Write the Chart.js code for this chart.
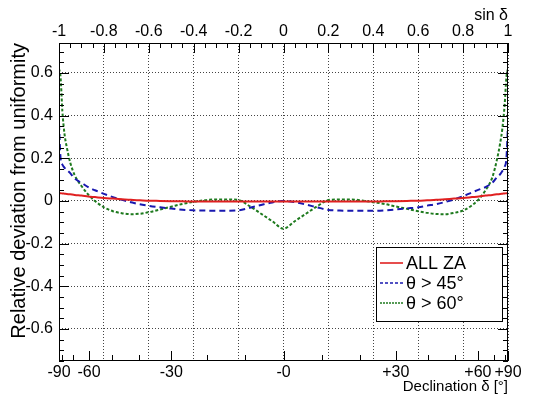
<!DOCTYPE html>
<html>
<head>
<meta charset="utf-8">
<script src="https://cdn.jsdelivr.net/npm/chart.js@4"></script>
<style>
  html, body { margin: 0; padding: 0; background: #fff; }
</style>
</head>
<body>
<canvas id="chart" width="541" height="399"></canvas>
<script>
"use strict"

// sin(declination) sample positions
const sinDec = [-1, -0.993, -0.985, -0.975, -0.965, -0.95, -0.93, -0.9, -0.87, -0.84, -0.8, -0.76, -0.72, -0.68,
  -0.64, -0.6, -0.55, -0.5, -0.45, -0.4, -0.35, -0.3, -0.25, -0.2, -0.15, -0.1, -0.05, 0,
  0.05, 0.1, 0.15, 0.2, 0.25, 0.3, 0.35, 0.4, 0.45, 0.5, 0.55, 0.6, 0.64, 0.68,
  0.72, 0.76, 0.8, 0.84, 0.87, 0.9, 0.93, 0.95, 0.965, 0.975, 0.985, 0.993, 1];

const allZA = [0.036, 0.036, 0.035, 0.034, 0.033, 0.031, 0.028, 0.025, 0.021, 0.018, 0.014, 0.011, 0.008, 0.005,
  0.003, 0.001, 0, -0.001, -0.002, -0.003, -0.003, -0.003, -0.003, -0.003, -0.003, -0.003, -0.003, -0.003,
  -0.003, -0.003, -0.003, -0.003, -0.003, -0.003, -0.003, -0.003, -0.002, -0.001, 0, 0.001, 0.003, 0.005,
  0.008, 0.011, 0.014, 0.018, 0.021, 0.025, 0.028, 0.031, 0.033, 0.034, 0.035, 0.036, 0.036];

const theta45 = [0.36, 0.2, 0.17, 0.155, 0.145, 0.13, 0.105, 0.085, 0.065, 0.05, 0.033, 0.018, 0.005, -0.006,
  -0.016, -0.023, -0.03, -0.036, -0.041, -0.044, -0.045, -0.046, -0.046, -0.044, -0.032, -0.019, -0.007, 0,
  -0.006, -0.017, -0.03, -0.042, -0.045, -0.046, -0.046, -0.046, -0.044, -0.04, -0.035, -0.03, -0.022, -0.015,
  -0.005, 0.007, 0.022, 0.04, 0.053, 0.065, 0.085, 0.11, 0.125, 0.14, 0.16, 0.2, 0.36];

const theta60 = [0.62, 0.58, 0.42, 0.31, 0.25, 0.18, 0.12, 0.07, 0.03, 0, -0.03, -0.048, -0.058, -0.062,
  -0.06, -0.053, -0.04, -0.027, -0.014, -0.004, 0.003, 0.007, 0.007, 0.004, -0.025, -0.06, -0.095, -0.13,
  -0.095, -0.06, -0.025, 0.004, 0.007, 0.007, 0.002, -0.006, -0.014, -0.026, -0.037, -0.048, -0.056, -0.061,
  -0.062, -0.056, -0.045, -0.02, 0.008, 0.05, 0.11, 0.19, 0.27, 0.34, 0.45, 0.58, 0.62];

// axis ticks
const sinTicks = [-1, -0.8, -0.6, -0.4, -0.2, 0, 0.2, 0.4, 0.6, 0.8, 1];
const sinLabels = ['-1', '-0.8', '-0.6', '-0.4', '-0.2', '0', '0.2', '0.4', '0.6', '0.8', '1'];
const decTicks = [-90, -60, -30, 0, 30, 60, 90];
const decLabels = ['-90', '-60', '-30', '-0', '+30', '+60', '+90'];
const yTicks = [-0.6, -0.4, -0.2, 0, 0.2, 0.4, 0.6];
const yLabels = ['-0.6', '-0.4', '-0.2', '0', '0.2', '0.4', '0.6'];

const FONT = "'Liberation Sans', Arial, sans-serif";
const RED = '#e02020', BLUE = '#1818b0', GREEN = '#1e7a1e';
const rad = Math.PI / 180;

function points(ys) {
  return sinDec.map((x, i) => ({ x: x, y: ys[i] }));
}

const legendItems = [
  { text: 'ALL ZA', color: RED, dash: [] },
  { text: 'θ > 45°', color: BLUE, dash: [3, 2] },
  { text: 'θ > 60°', color: GREEN, dash: [2, 1] }
];

// frame, ROOT-like tick marks and the boxed legend
const frameAndLegend = {
  id: 'frameAndLegend',
  afterDraw(chart) {
    const { ctx, chartArea: a, scales } = chart;
    ctx.save();
    ctx.strokeStyle = '#000';
    ctx.lineWidth = 1;
    ctx.setLineDash([]);
    ctx.beginPath();
    for (let k = -15; k <= 14; k++) {
      const py = Math.round(scales.y.getPixelForValue(k * 0.05)) + 0.5;
      const len = (k % 4 === 0) ? 10 : 5;
      ctx.moveTo(a.left, py); ctx.lineTo(a.left + len, py);
      ctx.moveTo(a.right, py); ctx.lineTo(a.right - len, py);
    }
    for (let k = -20; k <= 20; k++) {
      const px = Math.round(scales.x2.getPixelForValue(k * 0.05)) + 0.5;
      const len = (k % 4 === 0) ? 10 : 5;
      ctx.moveTo(px, a.top); ctx.lineTo(px, a.top + len);
    }
    for (let d = -90; d <= 90; d += 10) {
      const px = Math.round(scales.x.getPixelForValue(Math.sin(d * rad))) + 0.5;
      const len = (d % 30 === 0) ? 10 : 6;
      ctx.moveTo(px, a.bottom); ctx.lineTo(px, a.bottom - len);
    }
    ctx.stroke();
    ctx.strokeRect(a.left + 0.5, a.top + 0.5, a.right - a.left - 1, a.bottom - a.top - 1);

    // legend box
    const bx = 376, by = 247, bw = 126, bh = 74;
    ctx.fillStyle = '#fff';
    ctx.fillRect(bx, by, bw, bh);
    ctx.strokeRect(bx + 0.5, by + 0.5, bw, bh);
    ctx.font = '18px ' + FONT;
    ctx.textBaseline = 'middle';
    ctx.textAlign = 'left';
    legendItems.forEach((it, i) => {
      const ly = by + 16 + i * 20;
      ctx.beginPath();
      ctx.strokeStyle = it.color;
      ctx.lineWidth = 1.6;
      ctx.setLineDash(it.dash);
      ctx.moveTo(380, ly);
      ctx.lineTo(403, ly);
      ctx.stroke();
      ctx.fillStyle = '#000';
      ctx.fillText(it.text, 406, ly + 1);
    });
    ctx.restore();
  }
};

const gridStyle = { color: '#444', lineWidth: 1, drawTicks: false };

new Chart(document.getElementById('chart'), {
  type: 'line',
  data: {
    datasets: [
      {
        label: 'ALL ZA',
        data: points(allZA),
        borderColor: RED,
        borderWidth: 2
      },
      {
        label: 'θ > 45°',
        data: points(theta45),
        borderColor: BLUE,
        borderWidth: 2,
        borderDash: [6, 4]
      },
      {
        label: 'θ > 60°',
        data: points(theta60),
        borderColor: GREEN,
        borderWidth: 2,
        borderDash: [3, 2]
      }
    ]
  },
  options: {
    responsive: false,
    animation: false,
    devicePixelRatio: 1,
    layout: { padding: { left: 0, right: 33, top: 0, bottom: 0 } },
    elements: {
      point: { radius: 0 },
      line: { cubicInterpolationMode: 'monotone' }
    },
    plugins: {
      legend: { display: false },
      tooltip: { enabled: false }
    },
    scales: {
      x: {
        type: 'linear',
        position: 'bottom',
        min: -1,
        max: 1,
        afterBuildTicks: (scale) => {
          scale.ticks = decTicks.map(d => ({ value: Math.sin(d * rad) }));
        },
        afterFit: (scale) => { scale.height = 38; },
        grid: { display: false, drawTicks: false },
        border: { display: false },
        ticks: {
          autoSkip: false,
          maxRotation: 0,
          padding: 2,
          color: '#000',
          font: { family: FONT, size: 16 },
          callback: (v, i) => decLabels[i]
        },
        title: {
          display: true,
          text: 'Declination δ [°]',
          align: 'end',
          color: '#000',
          font: { family: FONT, size: 15 },
          padding: { top: 0, bottom: 3 }
        }
      },
      x2: {
        type: 'linear',
        position: 'top',
        min: -1,
        max: 1,
        afterBuildTicks: (scale) => {
          scale.ticks = sinTicks.map(v => ({ value: v }));
        },
        afterFit: (scale) => { scale.height = 43; },
        grid: gridStyle,
        border: { display: false, dash: [1, 2] },
        ticks: {
          autoSkip: false,
          maxRotation: 0,
          padding: 2,
          color: '#000',
          font: { family: FONT, size: 16 },
          callback: (v, i) => sinLabels[i]
        },
        title: {
          display: true,
          text: 'sin δ',
          align: 'end',
          color: '#000',
          font: { family: FONT, size: 16 },
          padding: { top: 6, bottom: 0 }
        }
      },
      y: {
        type: 'linear',
        position: 'left',
        min: -0.75,
        max: 0.74,
        afterBuildTicks: (scale) => {
          scale.ticks = yTicks.map(v => ({ value: v }));
        },
        afterFit: (scale) => { scale.width = 59; },
        grid: gridStyle,
        border: { display: false, dash: [1, 2] },
        ticks: {
          padding: 6,
          color: '#000',
          font: { family: FONT, size: 16 },
          callback: (v, i) => yLabels[i]
        },
        title: {
          display: true,
          text: 'Relative deviation from uniformity',
          align: 'end',
          color: '#000',
          font: { family: FONT, size: 20 },
          padding: { top: 7, bottom: 0 }
        }
      }
    }
  },
  plugins: [frameAndLegend]
});
</script>
</body>
</html>
